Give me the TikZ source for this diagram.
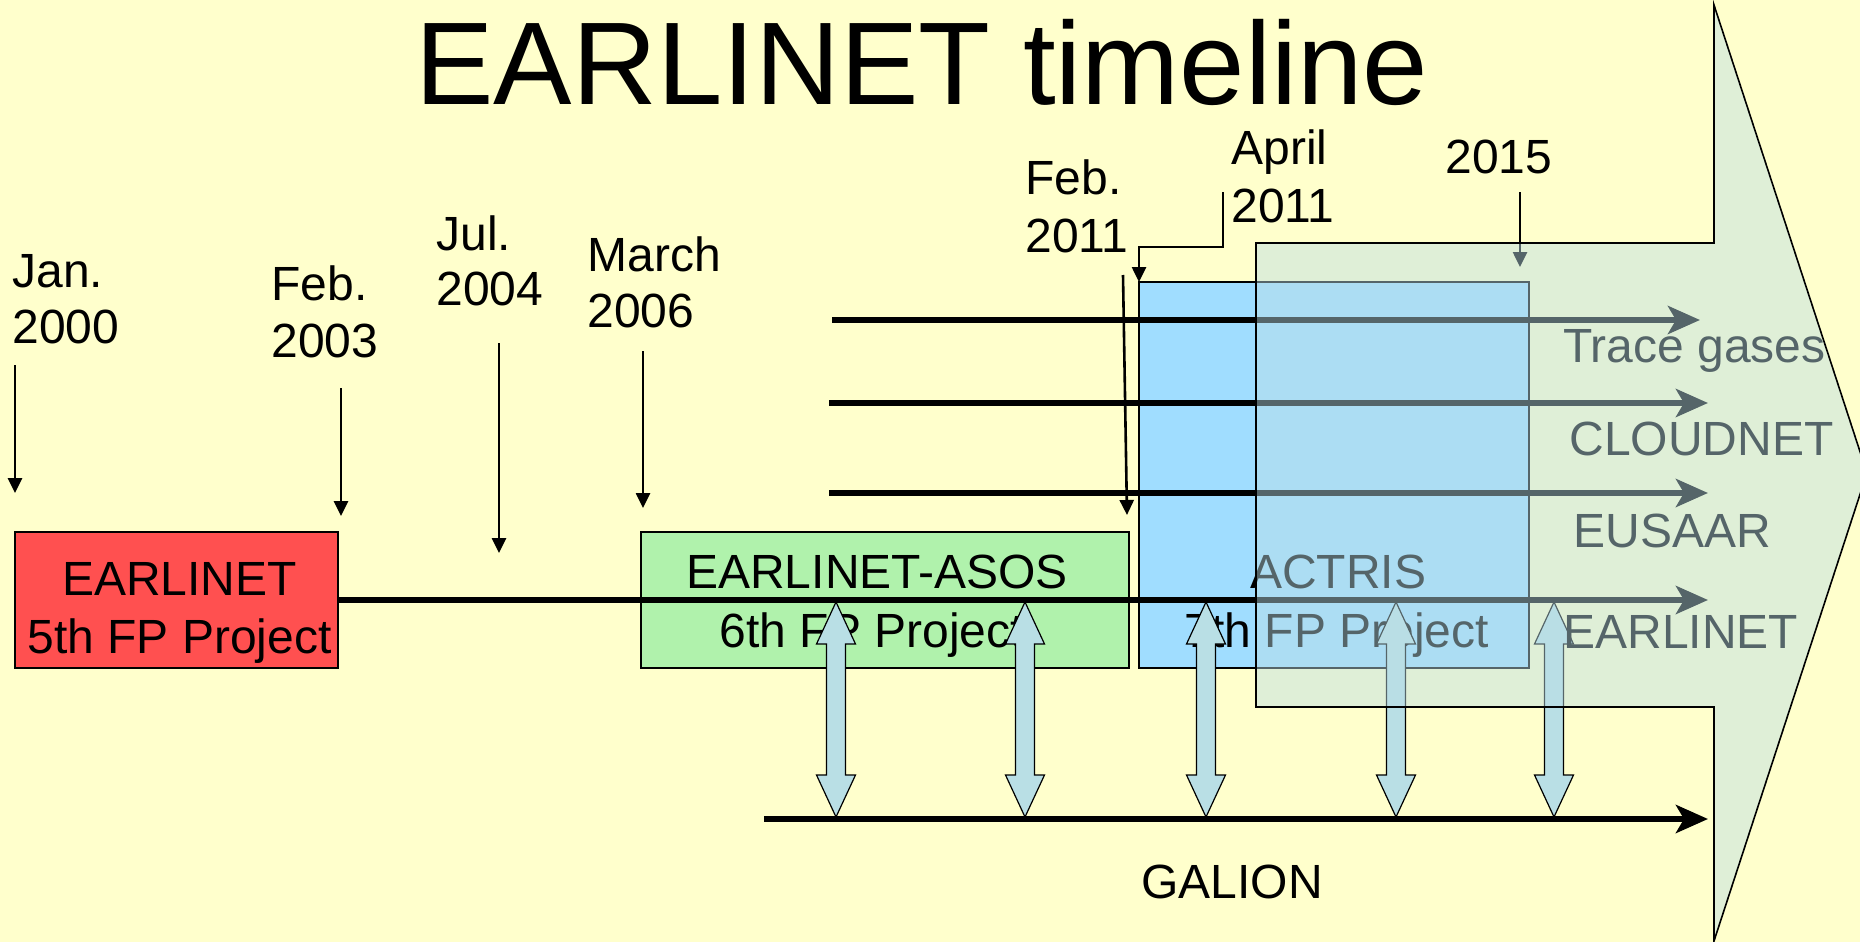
\documentclass[tikz,border=0pt]{standalone}
\usepackage{fontspec}
\setmainfont{Liberation Sans}
\usetikzlibrary{arrows.meta}
\definecolor{bgyellow}{RGB}{255,255,204}
\definecolor{boxred}{RGB}{255,80,80}
\definecolor{boxgreen}{RGB}{176,242,172}
\definecolor{boxblue}{RGB}{160,221,255}
\definecolor{bigarrowfill}{RGB}{187,222,230}
\definecolor{dblblue}{RGB}{185,223,229}
\begin{document}
\begin{tikzpicture}[x=0.5pt,y=-0.5pt,
  lbl/.style={font=\fontsize{24}{28}\selectfont, inner sep=0pt},
  datelbl/.style={lbl, anchor=base west},
  boxtxt/.style={lbl, anchor=base},
  projbox/.style={draw=black, line width=0.8pt, inner sep=0pt, outer sep=0pt, anchor=north west},
  dateline/.style={line width=1.3pt, -{Triangle[length=7.5pt,width=7pt]}},
  track/.style={line width=3pt, -{Stealth[length=16pt,width=14pt,inset=4pt]}},
  linkarrow/.style={fill=dblblue, draw=black, line width=0.6pt, line join=miter},
  bigarrowstyle/.style={fill=bigarrowfill, fill opacity=0.46, draw=black, draw opacity=1, line width=0.8pt, line join=miter}
]
\useasboundingbox (0,0) rectangle (1860,942);
\fill[bgyellow] (0,0) rectangle (1860,942);

% title
\node[font=\fontsize{58.8}{70}\selectfont, anchor=base, inner sep=0pt] (title) at (922,104) {EARLINET timeline};

% date labels
\node[datelbl] (jan1) at (12,287.5) {Jan.};
\node[datelbl] (jan2) at (12,343.5) {2000};
\node[datelbl] (febA1) at (271,300.5) {Feb.};
\node[datelbl] (febA2) at (271,357.5) {2003};
\node[datelbl] (jul1) at (436,250.5) {Jul.};
\node[datelbl] (jul2) at (436,305.5) {2004};
\node[datelbl] (mar1) at (587,271.5) {March};
\node[datelbl] (mar2) at (587,327.5) {2006};
\node[datelbl] (febB1) at (1025,194.5) {Feb.};
\node[datelbl] (febB2) at (1025,252.5) {2011};
\node[datelbl] (apr1) at (1231,164.5) {April};
\node[datelbl] (apr2) at (1231,222.5) {2011};
\node[lbl, anchor=base] (y2015) at (1499,173.5) {2015};

% project boxes
\node[projbox, fill=boxred, minimum width=161.5pt, minimum height=68pt] (red) at (15,532) {};
\node[projbox, fill=boxgreen, minimum width=244pt, minimum height=68pt] (green) at (641,532) {};
\node[projbox, fill=boxblue, minimum width=195pt, minimum height=193pt] (blue) at (1139,282) {};

% date arrows
\coordinate (janS) at (15,365);   \coordinate (janE) at (15,493);
\coordinate (febAS) at (341,388); \coordinate (febAE) at (341,516);
\coordinate (julS) at (499,343);  \coordinate (julE) at (499,553);
\coordinate (marS) at (643,351);  \coordinate (marE) at (643,508);
\coordinate (febBS) at (1123,275); \coordinate (febBE) at (1127,515);
\coordinate (aprS) at (1223,192);
\coordinate (y15S) at (1520,192); \coordinate (y15E) at (1520,267);
\draw[dateline] (janS) -- (janE);
\draw[dateline] (febAS) -- (febAE);
\draw[dateline] (julS) -- (julE);
\draw[dateline] (marS) -- (marE);
\draw[dateline] (febBS) -- (febBE);
\draw[dateline] (aprS) |- (1139,247) -- (blue.north west);
\draw[dateline] (y15S) -- (y15E);

% tracks
\coordinate (traceS) at (832,320); \coordinate (traceE) at (1700,320);
\coordinate (cloudS) at (829,403); \coordinate (cloudE) at (1708,403);
\coordinate (eusS) at (829,493);   \coordinate (eusE) at (1708,493);
\coordinate (galS) at (764,819);   \coordinate (galE) at (1708,819);
\draw[track] (traceS) -- (traceE);
\draw[track] (cloudS) -- (cloudE);
\draw[track] (eusS) -- (eusE);
\draw[track] (red.east) -- (red.east -| galE);
\draw[track] (galS) -- (galE);

% box texts
\node[boxtxt] (t5a) at (179.5,595) {EARLINET};
\node[boxtxt] (t5b) at (179.5,653) {5th FP Project};
\node[boxtxt] (t6a) at (877,588) {EARLINET-ASOS};
\node[boxtxt] (t6b) at (872,647) {6th FP Project};
\node[boxtxt] (t7a) at (1338,588) {ACTRIS};
\node[boxtxt] (t7b) at (1337,647) {7th FP Project};

% double arrows between EARLINET and GALION
\foreach \x in {836,1025,1206,1396,1554} {
  \draw[linkarrow] (\x,602) -- (\x+19.5,644) -- (\x+9.5,644) -- (\x+9.5,775)
    -- (\x+19.5,775) -- (\x,817) -- (\x-19.5,775) -- (\x-9.5,775)
    -- (\x-9.5,644) -- (\x-19.5,644) -- cycle;
}

% track labels
\node[datelbl] (ltrace) at (1563,362) {Trace gases};
\node[datelbl] (lcloud) at (1569,455.5) {CLOUDNET};
\node[datelbl] (leus) at (1573,547) {EUSAAR};
\node[datelbl] (lear) at (1563,648) {EARLINET};
\node[datelbl] (lgal) at (1141,898) {GALION};

% big future arrow (translucent overlay)
\draw[bigarrowstyle] (1256,243) -- (1714,243) -- (1714,5) -- (1867,473)
  -- (1714,941) -- (1714,707) -- (1256,707) -- cycle;
\end{tikzpicture}
\end{document}
